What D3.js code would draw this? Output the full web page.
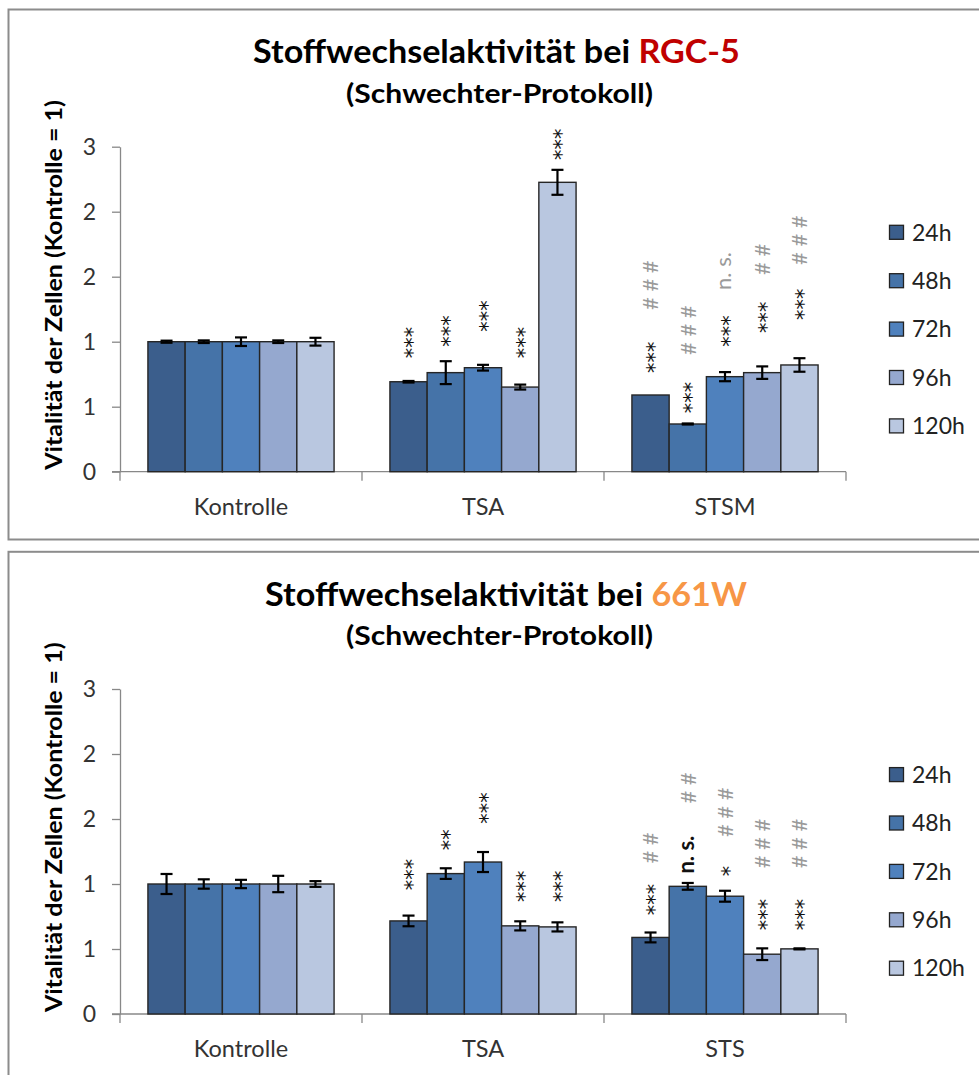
<!DOCTYPE html>
<html>
<head>
<meta charset="utf-8">
<script src="https://cdn.jsdelivr.net/npm/d3@7"></script>
<style>
  html, body { margin: 0; padding: 0; background: #fff; }
  svg { display: block; }
</style>
</head>
<body>
<svg id="chart" width="979" height="1075"></svg>
<script>
// ---- shared series / axis definitions ----
const seriesNames = ["24h", "48h", "72h", "96h", "120h"];
const seriesColors = ["#3B5E8C", "#4573A8", "#4F81BD", "#95A8CF", "#B9C7E0"];
const tickValues = [0, 0.5, 1, 1.5, 2, 2.5];
const tickLabels = ["0", "1", "1", "2", "2", "3"];

// ---- RGC-5 ----
const rgcCategories = ["Kontrolle", "TSA", "STSM"];
const rgcKontrolle = [1.00, 1.00, 1.00, 1.00, 1.00];
const rgcKontrolleErr = [0.008, 0.010, 0.033, 0.010, 0.030];
const rgcTSA = [0.692, 0.762, 0.800, 0.651, 2.226];
const rgcTSAErr = [0.006, 0.088, 0.022, 0.019, 0.096];
const rgcSTSM = [0.590, 0.367, 0.731, 0.762, 0.821];
const rgcSTSMErr = [0, 0.004, 0.035, 0.048, 0.052];
const rgcTSAStars = ["***", "***", "***", "***", "***"];
const rgcTSAStarsAt = [0.872, 0.962, 1.077, 0.872, 2.398];
const rgcSTSMStars = ["***", "***", "***", "***", "***"];
const rgcSTSMStarsAt = [0.759, 0.449, 0.962, 1.067, 1.167];
const rgcSTSMHash = ["# # #", "# # #", "n. s.", "# #", "# # #"];
const rgcSTSMHashAt = [1.244, 0.898, 1.398, 1.513, 1.590];

// ---- 661W ----
const w661Categories = ["Kontrolle", "TSA", "STS"];
const w661Kontrolle = [1.00, 1.00, 1.00, 1.00, 1.00];
const w661KontrolleErr = [0.077, 0.036, 0.032, 0.063, 0.022];
const w661TSA = [0.716, 1.080, 1.169, 0.678, 0.670];
const w661TSAErr = [0.041, 0.041, 0.077, 0.035, 0.035];
const w661STS = [0.589, 0.982, 0.906, 0.460, 0.501];
const w661STSErr = [0.038, 0.026, 0.042, 0.045, 0.004];
const w661TSAStars = ["***", "**", "***", "***", "***"];
const w661TSAStarsAt = [0.952, 1.259, 1.464, 0.862, 0.862];
const w661STSStars = ["***", "n. s.", "*", "***", "***"];
const w661STSStarsAt = [0.760, 1.080, 1.059, 0.645, 0.645];
const w661STSHash = ["# #", "# #", "# # #", "# # #", "# # #"];
const w661STSHashAt = [1.157, 1.619, 1.361, 1.121, 1.121];

const FONT = "Lato, 'Open Sans', 'DejaVu Sans', sans-serif";
const STAR_FONT = "'DejaVu Sans', sans-serif";
const svg = d3.select("#chart");

function labelRow(catIndex, texts, levels, color) {
  return texts.map((t, i) => ({ cat: catIndex, series: i, text: t, at: levels[i], color }));
}

const panels = [
  {
    top: 0,
    titleMain: "Stoffwechselaktivität bei ",
    titleCell: "RGC-5",
    cellColor: "#C00000",
    titleX: 496.5, titleW: 487,
    categories: rgcCategories,
    values: [rgcKontrolle, rgcTSA, rgcSTSM],
    errors: [rgcKontrolleErr, rgcTSAErr, rgcSTSMErr],
    labels: [].concat(
      labelRow(1, rgcTSAStars, rgcTSAStarsAt, "#111"),
      labelRow(2, rgcSTSMStars, rgcSTSMStarsAt, "#111"),
      labelRow(2, rgcSTSMHash, rgcSTSMHashAt, "#9A9A9A")
    )
  },
  {
    top: 542.3,
    titleMain: "Stoffwechselaktivität bei ",
    titleCell: "661W",
    cellColor: "#F79646",
    titleX: 506, titleW: 482,
    categories: w661Categories,
    values: [w661Kontrolle, w661TSA, w661STS],
    errors: [w661KontrolleErr, w661TSAErr, w661STSErr],
    labels: [].concat(
      labelRow(1, w661TSAStars, w661TSAStarsAt, "#111"),
      labelRow(2, w661STSStars, w661STSStarsAt, "#111"),
      labelRow(2, w661STSHash, w661STSHashAt, "#9A9A9A")
    )
  }
];

// stretch/squeeze a text element horizontally so it spans the given width
function fitWidth(sel, target, tx, ty, rotate) {
  const w = sel.node().getComputedTextLength();
  const sx = target / w;
  sel.attr("transform", `translate(${tx},${ty})${rotate ? " rotate(-90)" : ""} scale(${sx},1)`);
}

// font and offset of each kind of significance mark (offset = glyph centre above baseline, in em)
function markStyle(t) {
  if (t.includes("*")) return { font: STAR_FONT, size: 21, shift: 0.55, weight: 400 };
  if (t.includes("#")) return { font: FONT, size: 22, shift: 0.36, weight: 400 };
  return { font: FONT, size: 22, shift: 0.27, weight: 400 };
}

function drawPanel(p) {
  const g = svg.append("g").attr("transform", `translate(0,${p.top})`);

  // panel frame
  g.append("rect")
    .attr("x", 8.5).attr("y", 9.5)
    .attr("width", 1000).attr("height", 530)
    .attr("fill", "none").attr("stroke", "#8C8C8C").attr("stroke-width", 2);

  // title
  const title = g.append("text")
    .attr("x", 0).attr("y", 0)
    .attr("text-anchor", "middle")
    .style("font-family", FONT).style("font-weight", 700).style("font-size", "32px");
  title.append("tspan").attr("fill", "#000").text(p.titleMain);
  title.append("tspan").attr("fill", p.cellColor).text(p.titleCell);
  fitWidth(title, p.titleW, p.titleX, 63.3, false);

  const sub = g.append("text")
    .attr("x", 0).attr("y", 0)
    .attr("text-anchor", "middle")
    .attr("fill", "#000")
    .style("font-family", FONT).style("font-weight", 700).style("font-size", "27px")
    .text("(Schwechter-Protokoll)");
  fitWidth(sub, 307, 499.5, 103, false);

  // scales
  const y = d3.scaleLinear().domain([0, 2.5]).range([471.7, 146.7]);
  const x = d3.scaleBand().domain(p.categories).range([120, 846]);
  const xs = d3.scaleBand().domain(seriesNames).range([0, x.bandwidth()]).paddingOuter(0.75);

  // y axis
  const yAxis = g.append("g")
    .attr("transform", "translate(120,0)")
    .call(d3.axisLeft(y).tickValues(tickValues)
      .tickFormat((d, i) => tickLabels[i])
      .tickSize(8).tickSizeOuter(0).tickPadding(16));
  yAxis.select(".domain").attr("stroke", "#888").attr("stroke-width", 1.3);
  yAxis.selectAll(".tick line").attr("stroke", "#888").attr("stroke-width", 1.3);
  yAxis.selectAll(".tick text")
    .attr("fill", "#333").style("font-family", FONT).style("font-size", "23px");

  // x axis: baseline, boundary ticks, centred category names
  const bounds = p.categories.map(c => x(c)).concat([x.range()[1]]);
  g.append("line")
    .attr("x1", 112).attr("x2", x.range()[1])
    .attr("y1", y(0)).attr("y2", y(0))
    .attr("stroke", "#888").attr("stroke-width", 1.3);
  g.selectAll(".xtick").data(bounds).join("line")
    .attr("class", "xtick")
    .attr("x1", d => d).attr("x2", d => d)
    .attr("y1", y(0)).attr("y2", y(0) + 9)
    .attr("stroke", "#888").attr("stroke-width", 1.3);
  g.selectAll(".xlab").data(p.categories).join("text")
    .attr("class", "xlab")
    .attr("x", d => x(d) + x.bandwidth() / 2)
    .attr("y", 515)
    .attr("text-anchor", "middle")
    .attr("fill", "#333")
    .style("font-family", FONT).style("font-size", "23.5px")
    .text(d => d);

  // y axis title
  const yt = g.append("text")
    .attr("x", 0).attr("y", 0)
    .attr("text-anchor", "middle")
    .attr("fill", "#000")
    .style("font-family", FONT).style("font-weight", 700).style("font-size", "23px")
    .text("Vitalität der Zellen (Kontrolle = 1)");
  fitWidth(yt, 370, 62, 285, true);

  // bars
  const rows = [];
  p.categories.forEach((c, ci) => {
    seriesNames.forEach((s, si) => {
      rows.push({ cat: c, ci, s, si, v: p.values[ci][si], e: p.errors[ci][si] });
    });
  });

  g.selectAll(".bar").data(rows).join("rect")
    .attr("class", "bar")
    .attr("x", d => x(d.cat) + xs(d.s))
    .attr("width", xs.bandwidth())
    .attr("y", d => y(d.v))
    .attr("height", d => y(0) - y(d.v))
    .attr("fill", d => seriesColors[d.si])
    .attr("stroke", "#262626").attr("stroke-width", 1.4);

  // error bars
  const eb = g.selectAll(".err").data(rows.filter(d => d.e > 0)).join("g").attr("class", "err");
  const cx = d => x(d.cat) + xs(d.s) + xs.bandwidth() / 2;
  eb.append("line")
    .attr("x1", cx).attr("x2", cx)
    .attr("y1", d => y(d.v + d.e)).attr("y2", d => y(d.v - d.e))
    .attr("stroke", "#000").attr("stroke-width", 2.2);
  [1, -1].forEach(sign => {
    eb.append("line")
      .attr("x1", d => cx(d) - 6).attr("x2", d => cx(d) + 6)
      .attr("y1", d => y(d.v + sign * d.e)).attr("y2", d => y(d.v + sign * d.e))
      .attr("stroke", "#000").attr("stroke-width", 2.2);
  });

  // significance marks, written bottom-to-top above the bars
  g.selectAll(".sig").data(p.labels).join("text")
    .attr("class", "sig")
    .attr("transform", d => {
      const c = p.categories[d.cat], s = seriesNames[d.series];
      return `translate(${x(c) + xs(s) + xs.bandwidth() / 2},${y(d.at)}) rotate(-90)`;
    })
    .attr("x", 0)
    .attr("y", d => { const m = markStyle(d.text); return m.shift * m.size; })
    .attr("fill", d => d.color)
    .style("font-family", d => markStyle(d.text).font)
    .style("font-size", d => markStyle(d.text).size + "px")
    .style("font-weight", d => d.text === "n. s." && d.color === "#111" ? 700 : 400)
    .text(d => d.text);

  // legend
  const lg = g.selectAll(".leg").data(seriesNames).join("g")
    .attr("class", "leg")
    .attr("transform", (d, i) => `translate(889,${232.3 + i * 48.4})`);
  lg.append("rect")
    .attr("x", 0.5).attr("y", -7)
    .attr("width", 14).attr("height", 14)
    .attr("fill", (d, i) => seriesColors[i])
    .attr("stroke", "#222").attr("stroke-width", 1.3);
  lg.append("text")
    .attr("x", 23).attr("y", 0)
    .attr("dy", "0.36em")
    .attr("fill", "#222")
    .style("font-family", FONT).style("font-size", "23px")
    .text(d => d);
}

panels.forEach(drawPanel);
</script>
</body>
</html>
